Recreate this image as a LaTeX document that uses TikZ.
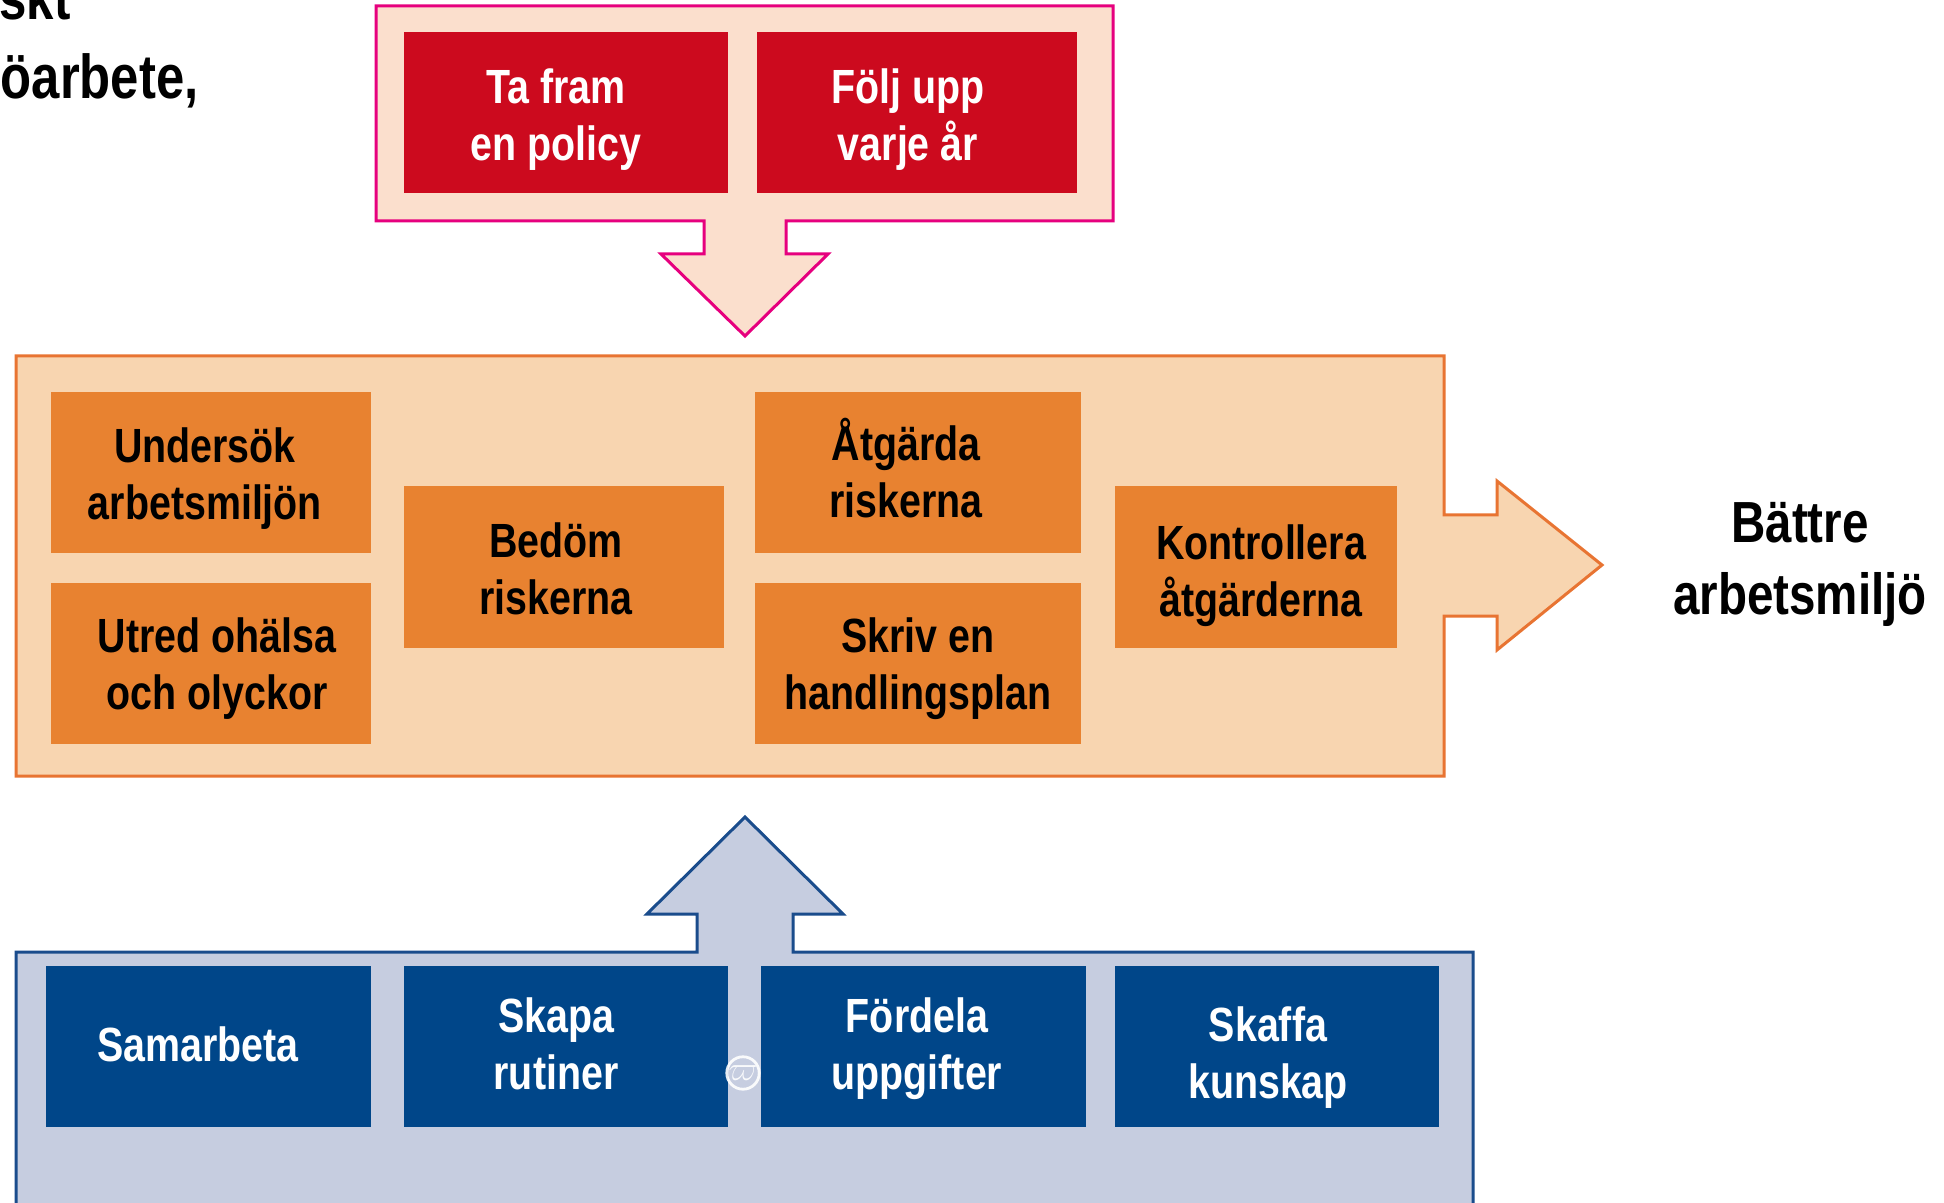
\documentclass[tikz,border=0pt]{standalone}
\usepackage{fontspec}
\newfontfamily\nar{Liberation Sans}[FakeStretch=0.82]
\definecolor{pinkline}{HTML}{E6007E}
\definecolor{pinkfill}{HTML}{FBDFCD}
\definecolor{redbox}{HTML}{CC0A1E}
\definecolor{orfill}{HTML}{F8D5B0}
\definecolor{orline}{HTML}{E87432}
\definecolor{orbox}{HTML}{E88230}
\definecolor{bluebox}{HTML}{004689}
\definecolor{bluefill}{HTML}{C6CDE0}
\definecolor{blueline}{HTML}{1A4C8C}
\tikzset{
  box/.style={minimum width=161pt, minimum height=80.5pt, inner sep=0pt},
  rbox/.style={box, fill=redbox},
  obox/.style={box, fill=orbox},
  bbox/.style={box, fill=bluebox},
  btext/.style={align=center, inner sep=0pt, font=\nar\bfseries\fontsize{24}{28.5}\selectfont},
  wtext/.style={btext, text=white},
  ktext/.style={btext, text=black},
  frame/.style={line width=1.5pt, line join=miter},
  bigtext/.style={align=center, inner sep=0pt, font=\nar\bfseries\fontsize{29}{36}\selectfont}
}
\begin{document}
\begin{tikzpicture}[x=0.5pt,y=-0.5pt]
\useasboundingbox (0,0) rectangle (1944,1203);
\clip (0,0) rectangle (1944,1203);
\fill[white] (0,0) rectangle (1944,1203);

% top-left cut text
\node[bigtext, font=\nar\bfseries\fontsize{30}{36}\selectfont, anchor=base east] (t1) at (71,20) {skt};
\node[bigtext, font=\nar\bfseries\fontsize{31}{36}\selectfont, anchor=base east] (t2) at (199,99) {öarbete,};

% top pink frame with down arrow
\draw[frame, draw=pinkline, fill=pinkfill]
  (376,6) -- (1113,6) -- (1113,221) -- (786,221) -- (786,254) -- (828,254)
  -- (745,336) -- (661,254) -- (704,254) -- (704,221) -- (376,221) -- cycle;
\node[rbox, minimum width=162pt] (policy) at (566,113) {};
\node[wtext] (policy-t) at (556,120) {Ta fram\\en policy};
\node[rbox, minimum width=160pt] (folj) at (917,113) {};
\node[wtext] (folj-t) at (908,120) {Följ upp\\varje år};

% middle orange frame with right arrow
\draw[frame, draw=orline, fill=orfill]
  (16,356) -- (1444,356) -- (1444,515) -- (1497,515) -- (1497,481) -- (1602,565)
  -- (1497,650) -- (1497,616) -- (1444,616) -- (1444,776) -- (16,776) -- cycle;
\node[obox, minimum width=160pt] (unders) at (211,472.5) {};
\node[ktext] (unders-t) at (205,479) {Undersök\\arbetsmiljön};
\node[obox, minimum width=160pt] (utred) at (211,663.5) {};
\node[ktext] (utred-t) at (217,669) {Utred ohälsa\\och olyckor};
\node[obox, minimum width=160pt] (bedom) at (564,567) {};
\node[ktext] (bedom-t) at (556,569) {Bedöm\\riskerna};
\node[obox, minimum width=163pt] (atgarda) at (918,472.5) {};
\node[ktext] (atgarda-t) at (906,468) {Åtgärda\\riskerna};
\node[obox, minimum width=163pt] (skriv) at (918,663.5) {};
\node[ktext] (skriv-t) at (918,669) {Skriv en\\handlingsplan};
\node[obox, minimum width=141pt] (kontr) at (1256,567) {};
\node[ktext] (kontr-t) at (1261,576) {Kontrollera\\åtgärderna};

\node[bigtext] (battre) at (1800,564) {Bättre\\arbetsmiljö};

% bottom blue frame with up arrow
\draw[frame, draw=blueline, fill=bluefill]
  (16,1230) -- (16,952) -- (697,952) -- (697,914) -- (647,914) -- (745,817)
  -- (843,914) -- (793,914) -- (793,952) -- (1473,952) -- (1473,1230);
\node[bbox, minimum width=162.5pt] (samarb) at (208.5,1046.5) {};
\node[wtext] (samarb-t) at (198,1044) {Samarbeta};
\node[bbox, minimum width=162pt] (skapa) at (566,1046.5) {};
\node[wtext] (skapa-t) at (556,1044) {Skapa\\rutiner};
\node[bbox, minimum width=162.5pt] (fordela) at (923.5,1046.5) {};
\node[wtext] (fordela-t) at (917,1049) {Fördela\\uppgifter};
\node[bbox, minimum width=162pt] (skaffa) at (1277,1046.5) {};
\node[wtext] (skaffa-t) at (1268,1058) {Skaffa\\kunskap};

\node[circle, draw=white, line width=1.4pt, text=white, inner sep=0pt, minimum size=16pt,
  opacity=0.9, font=\fontsize{17}{17}\selectfont] (mark) at (743,1073) {$\varpi$};
\end{tikzpicture}
\end{document}
